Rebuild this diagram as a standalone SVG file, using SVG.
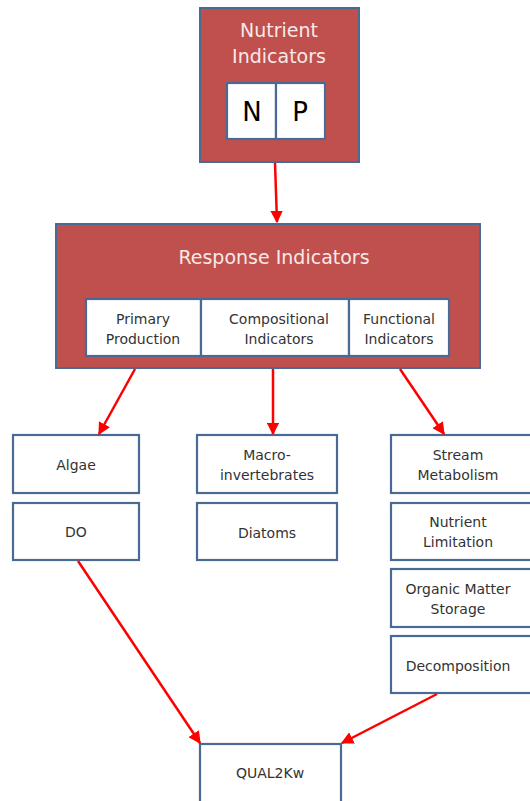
<svg xmlns="http://www.w3.org/2000/svg" width="530" height="801" viewBox="0 0 530 801">
<defs>
<style>
.red{fill:#c0504d;stroke:#4a6a96;stroke-width:2}
.wb{fill:#ffffff;stroke:#4a6a96;stroke-width:2.2}
.t{font-family:"DejaVu Sans",Tahoma,sans-serif;font-size:14px;fill:#333333;text-anchor:middle}
.wt{font-family:"DejaVu Sans",Tahoma,sans-serif;fill:#f7e9e8;text-anchor:middle}
.np{font-family:"DejaVu Sans",Tahoma,sans-serif;font-size:26px;fill:#000000;text-anchor:middle}
.c{stroke:#ff0000;stroke-width:2.5;fill:none;marker-end:url(#ah)}
</style>
<marker id="ah" viewBox="0 0 10 10" refX="9" refY="5" markerWidth="5" markerHeight="5" orient="auto" markerUnits="strokeWidth">
<path d="M0,0 L10,5 L0,10 z" fill="#ff0000"/>
</marker>
</defs>
<rect width="530" height="801" fill="#ffffff"/>
<g id="nutrient">
<rect class="red" x="200" y="8" width="159" height="154"/>
<text class="wt" x="279" y="37" font-size="19">Nutrient</text>
<text class="wt" x="279" y="63" font-size="19">Indicators</text>
<rect class="wb" x="227" y="83" width="49" height="56"/>
<rect class="wb" x="276" y="83" width="49" height="56"/>
<text class="np" x="252" y="121">N</text>
<text class="np" x="300" y="121">P</text>
</g>
<g id="response">
<rect class="red" x="56" y="224" width="424" height="144"/>
<text class="wt" x="274" y="264" font-size="19">Response Indicators</text>
<rect class="wb" x="86" y="299" width="115" height="57"/>
<rect class="wb" x="201" y="299" width="148" height="57"/>
<rect class="wb" x="349" y="299" width="100" height="57"/>
<text class="t" x="143" y="324">Primary</text>
<text class="t" x="143" y="344">Production</text>
<text class="t" x="279" y="324">Compositional</text>
<text class="t" x="279" y="344">Indicators</text>
<text class="t" x="399" y="324">Functional</text>
<text class="t" x="399" y="344">Indicators</text>
</g>
<g id="algae"><rect class="wb" x="13" y="435" width="126" height="58"/><text class="t" x="76" y="470">Algae</text></g>
<g id="do"><rect class="wb" x="13" y="503" width="126" height="57"/><text class="t" x="76" y="537">DO</text></g>
<g id="macro"><rect class="wb" x="197" y="435" width="140" height="58"/><text class="t" x="267" y="460">Macro-</text><text class="t" x="267" y="480">invertebrates</text></g>
<g id="diatoms"><rect class="wb" x="197" y="503" width="140" height="57"/><text class="t" x="267" y="538">Diatoms</text></g>
<g id="stream"><rect class="wb" x="391" y="435" width="145" height="58"/><text class="t" x="458" y="460">Stream</text><text class="t" x="458" y="480">Metabolism</text></g>
<g id="nutlim"><rect class="wb" x="391" y="503" width="145" height="57"/><text class="t" x="458" y="527">Nutrient</text><text class="t" x="458" y="547">Limitation</text></g>
<g id="organic"><rect class="wb" x="391" y="569" width="145" height="58"/><text class="t" x="458" y="594">Organic Matter</text><text class="t" x="458" y="614">Storage</text></g>
<g id="decomp"><rect class="wb" x="391" y="636" width="145" height="57"/><text class="t" x="458" y="671">Decomposition</text></g>
<g id="qual"><rect class="wb" x="200" y="744" width="141" height="70"/><text class="t" x="270" y="778">QUAL2Kw</text></g>
<g id="connectors">
<line class="c" x1="275" y1="163" x2="277" y2="222"/>
<line class="c" x1="135" y1="369" x2="99" y2="434"/>
<line class="c" x1="273" y1="369" x2="273" y2="434"/>
<line class="c" x1="400" y1="369" x2="444" y2="434"/>
<line class="c" x1="78" y1="561" x2="200" y2="743"/>
<line class="c" x1="437" y1="694" x2="342" y2="743"/>
</g>
</svg>
